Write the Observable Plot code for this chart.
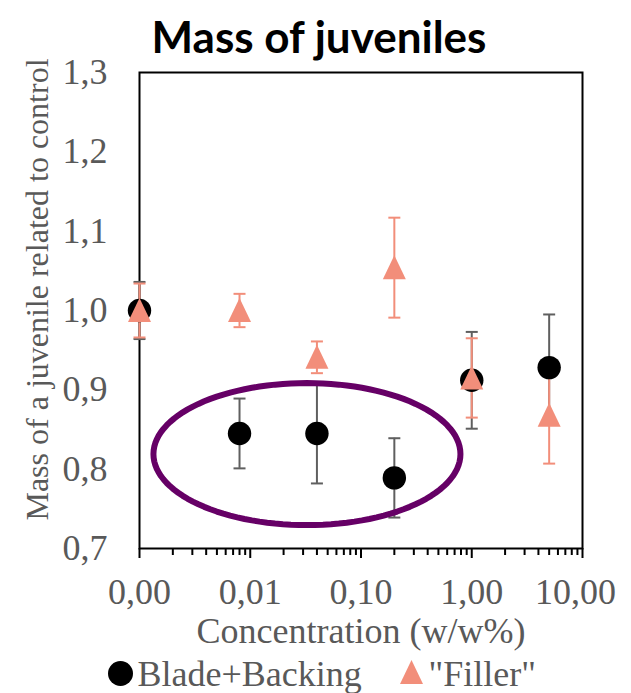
<!DOCTYPE html>
<html>
<head>
<meta charset="utf-8">
<script src="https://cdn.jsdelivr.net/npm/d3@7"></script>
<script src="https://cdn.jsdelivr.net/npm/@observablehq/plot@0.6"></script>
<style>
  body { margin: 0; background: #fff; }
  #chart { width: 631px; height: 693px; overflow: hidden; }
</style>
</head>
<body>
<div id="chart"></div>
<script>
// ---- Data ----
const concentrations = [0.001, 0.008, 0.04, 0.2, 1, 5];
const bladeMean = [1.000, 0.845, 0.845, 0.789, 0.912, 0.928];
const bladeErr  = [0.036, 0.044, 0.063, 0.050, 0.061, 0.067];
const fillerMean = [1.000, 1.000, 0.941, 1.054, 0.915, 0.868];
const fillerErr  = [0.034, 0.021, 0.020, 0.063, 0.050, 0.061];
const xTickValues = [0.001, 0.01, 0.1, 1, 10];
const xMinorTicks = [2,3,4,5,6,7,8,9].flatMap(m => [0.001, 0.01, 0.1, 1].map(d => +(m * d).toPrecision(3)));
const yTickValues = [0.7, 0.8, 0.9, 1.0, 1.1, 1.2, 1.3];
const seriesNames = ["Blade+Backing", "\"Filler\""];
const titleText = "Mass of juveniles";
const xLabel = "Concentration (w/w%)";
const yLabel = "Mass of a juvenile related to control";
// highlighted ellipse annotation (centre in data units, half-axes in decades / y units)
const ellipseCentre = [0.0325, 0.819];
const ellipseHalfAxes = [1.386, 0.0895];

const SERIF = "'Liberation Serif', 'Times New Roman', serif";
const GREY_TEXT = "#595959";
const ERR_GREY = "#5f5f5f";
const SALMON = "#F28E7A";
const PURPLE = "#660066";

const blade = concentrations.map((c, i) => ({c, m: bladeMean[i], lo: bladeMean[i] - bladeErr[i], hi: bladeMean[i] + bladeErr[i]}));
const filler = concentrations.map((c, i) => ({c, m: fillerMean[i], lo: fillerMean[i] - fillerErr[i], hi: fillerMean[i] + fillerErr[i]}));
const caps = s => s.flatMap(d => [{c: d.c, v: d.lo}, {c: d.c, v: d.hi}]);

const ellipsePts = d3.range(0, 361, 3).map(a => {
  const t = a * Math.PI / 180;
  return {
    x: Math.pow(10, Math.log10(ellipseCentre[0]) + ellipseHalfAxes[0] * Math.cos(t)),
    y: ellipseCentre[1] + ellipseHalfAxes[1] * Math.sin(t)
  };
});

const capSymbol = {draw(ctx) { ctx.moveTo(-6, 0); ctx.lineTo(6, 0); }};
const triSymbol = {draw(ctx) { ctx.moveTo(0, -12.5); ctx.lineTo(11.5, 11.5); ctx.lineTo(-11.5, 11.5); ctx.closePath(); }};
const comma = (v, n) => v.toFixed(n).replace(".", ",");
const lastX = xTickValues[xTickValues.length - 1];

const plot = Plot.plot({
  width: 631,
  height: 693,
  marginTop: 72,
  marginBottom: 145,
  marginLeft: 139,
  marginRight: 49,
  style: {fontFamily: SERIF, fontSize: "36px", color: "black", background: "white", overflow: "hidden"},
  x: {type: "log", domain: [0.001, 10]},
  y: {domain: [0.7, 1.3]},
  marks: [
    // axes
    Plot.axisY(yTickValues, {tickSize: 0, tickPadding: 32, tickFormat: d => comma(d, 1), fill: GREY_TEXT, fontFamily: SERIF, fontSize: 36, label: null}),
    Plot.axisX(xMinorTicks, {tickSize: 7, tickFormat: () => "", stroke: "black", strokeWidth: 2, label: null}),
    Plot.axisX(xTickValues, {tickSize: 10, tickPadding: 20, tickFormat: d => d === lastX ? "" : comma(d, 2), stroke: "black", strokeWidth: 2, fill: GREY_TEXT, fontFamily: SERIF, fontSize: 36, label: null}),
    Plot.text([lastX], {x: d => d, frameAnchor: "bottom", dy: 30, dx: -7, lineAnchor: "top", text: d => comma(d, 2), fill: GREY_TEXT, fontFamily: SERIF, fontSize: 36}),
    Plot.frame({stroke: "black", strokeWidth: 2}),
    // error bars (both series), then markers
    Plot.ruleX(blade, {x: "c", y1: "lo", y2: "hi", stroke: ERR_GREY, strokeWidth: 2}),
    Plot.dot(caps(blade), {x: "c", y: "v", symbol: capSymbol, stroke: ERR_GREY, strokeWidth: 2, fill: "none"}),
    Plot.ruleX(filler, {x: "c", y1: "lo", y2: "hi", stroke: SALMON, strokeWidth: 2}),
    Plot.dot(caps(filler), {x: "c", y: "v", symbol: capSymbol, stroke: SALMON, strokeWidth: 2, fill: "none"}),
    Plot.dot(blade, {x: "c", y: "m", r: 11.7, fill: "black", stroke: "none"}),
    Plot.dot(filler, {x: "c", y: "m", symbol: triSymbol, fill: SALMON, stroke: "none"}),
    // highlight ellipse
    Plot.line(ellipsePts, {x: "x", y: "y", stroke: PURPLE, strokeWidth: 6, curve: "linear-closed"}),
    // labels
    Plot.text([titleText], {frameAnchor: "top", dx: -42, dy: -20, lineAnchor: "bottom", fontFamily: "Lato, 'Open Sans', sans-serif", fontWeight: "bold", fontSize: 44, fill: "black"}),
    Plot.text([xLabel], {frameAnchor: "bottom", dy: 94, lineAnchor: "bottom", fill: GREY_TEXT, fontFamily: SERIF, fontSize: 36}),
    Plot.text([yLabel], {frameAnchor: "left", dx: -92, dy: -21, rotate: -90, textAnchor: "middle", lineAnchor: "bottom", fontFamily: SERIF, fontSize: 32, fill: GREY_TEXT}),
    // legend
    Plot.dot([seriesNames[0]], {frameAnchor: "bottom-left", dx: -19, dy: 125, r: 12.5, fill: "black", stroke: "none"}),
    Plot.text([seriesNames[0]], {frameAnchor: "bottom-left", dx: -2, dy: 137, lineAnchor: "bottom", textAnchor: "start", fill: GREY_TEXT, fontFamily: SERIF, fontSize: 36}),
    Plot.dot([seriesNames[1]], {frameAnchor: "bottom-left", dx: 272, dy: 124, symbol: triSymbol, fill: SALMON, stroke: "none"}),
    Plot.text([seriesNames[1]], {frameAnchor: "bottom-left", dx: 289, dy: 137, lineAnchor: "bottom", textAnchor: "start", fill: GREY_TEXT, fontFamily: SERIF, fontSize: 36})
  ]
});
document.getElementById("chart").appendChild(plot);
</script>
</body>
</html>
